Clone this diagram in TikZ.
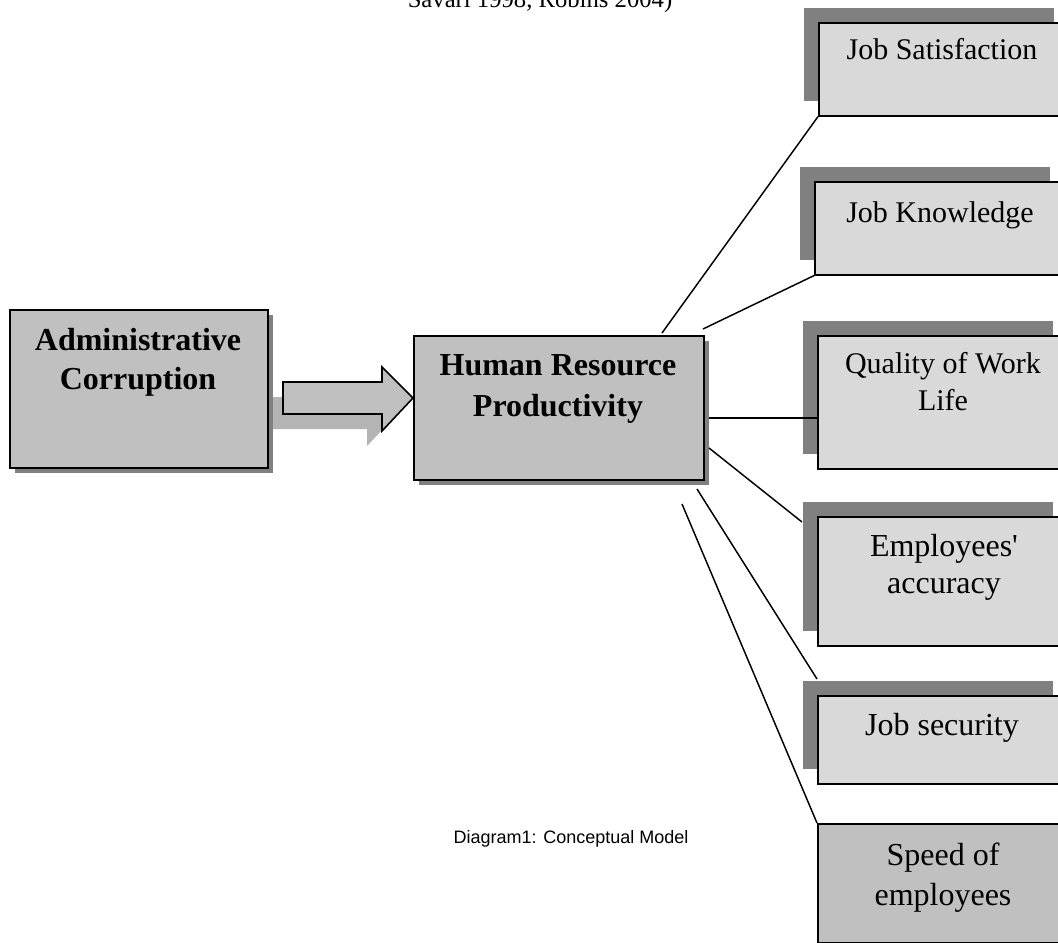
\documentclass[tikz,border=0pt]{standalone}
\usepackage{fontspec}
\setmainfont{Liberation Serif}
\newfontfamily\capfont{Liberation Sans}
\usetikzlibrary{shadows}
\definecolor{boxgray}{HTML}{C0C0C0}
\definecolor{shadegray}{HTML}{808080}
\definecolor{lightbox}{HTML}{D9D9D9}
\definecolor{arrowshade}{HTML}{B4B4B4}
\begin{document}
\begin{tikzpicture}[x=0.75pt,y=-0.75pt,
  mainbox/.style={draw=black, line width=1.4pt, fill=boxgray, inner sep=0pt, anchor=north west,
    drop shadow={shadow xshift=3.75pt, shadow yshift=-3.75pt, fill=shadegray, opacity=1}},
  sidebox/.style={draw=black, line width=1.2pt, fill=lightbox, inner sep=0pt, anchor=north west,
    minimum width={250*0.75pt},
    drop shadow={shadow xshift=-11.25pt, shadow yshift=11.25pt, fill=shadegray, opacity=1}},
  plainbox/.style={draw=black, line width=1.2pt, fill=boxgray, inner sep=0pt, anchor=north west,
    minimum width={250*0.75pt}},
  boldtxt/.style={anchor=base, inner sep=0pt, font=\fontsize{24}{28}\selectfont\bfseries},
  smalltxt/.style={anchor=base, inner sep=0pt, font=\fontsize{22.5}{27}\selectfont},
  bigtxt/.style={anchor=base, inner sep=0pt, font=\fontsize{24}{28}\selectfont},
  conn/.style={draw=black, line width=1.1pt},
  blockarrow/.style={draw=black, line width=1.2pt, fill=boxgray, line join=miter}
]
\useasboundingbox (0,0) rectangle (1058,943);

% top (cut) reference text
\node[anchor=base, inner sep=0pt, font=\fontsize{18.5}{22}\selectfont] (ref) at (540,7) {Savari 1998, Robins 2004)};

% block arrow shadow and arrow
\fill[arrowshade, shift={(-15,15)}] (283,382) -- (382,382) -- (382,367) -- (413,398) -- (382,431) -- (382,414) -- (283,414) -- cycle;

% left boxes
\node[mainbox, minimum width={258*0.75pt}, minimum height={158*0.75pt}] (ac) at (9,309) {};
\node[boldtxt] (ac1) at (138,350) {Administrative};
\node[boldtxt] (ac2) at (138,389) {Corruption};

\draw[blockarrow] (283,382) -- (382,382) -- (382,367) -- (413,398) -- (382,431) -- (382,414) -- (283,414) -- cycle;

\node[mainbox, minimum width={290*0.75pt}, minimum height={144*0.75pt}] (hrp) at (413,335) {};
\node[boldtxt] (hrp1) at (558,375) {Human Resource};
\node[boldtxt] (hrp2) at (558,416) {Productivity};

% right boxes
\node[sidebox, minimum height={93*0.75pt}] (js) at (818,22) {};
\node[smalltxt] (jst) at (942,59) {Job Satisfaction};

\node[sidebox, minimum height={93*0.75pt}] (jk) at (814,181) {};
\node[smalltxt] (jkt) at (940,222) {Job Knowledge};

\node[sidebox, minimum height={133*0.75pt}] (qw) at (817,335) {};
\node[smalltxt] (qw1) at (943,373) {Quality of Work};
\node[smalltxt] (qw2) at (943,410) {Life};

\node[sidebox, minimum height={129*0.75pt}] (ea) at (817,516) {};
\node[bigtxt] (ea1) at (944,556) {Employees\textquotesingle};
\node[bigtxt] (ea2) at (944,593) {accuracy};

\node[sidebox, minimum height={88*0.75pt}] (jsec) at (817,695) {};
\node[bigtxt] (jsect) at (942,735) {Job security};

\node[plainbox, minimum height={119*0.75pt}] (sp) at (817,823) {};
\node[bigtxt] (sp1) at (943,865) {Speed of};
\node[bigtxt] (sp2) at (943,905) {employees};

% connectors
\coordinate (s1) at (662,333);
\coordinate (s2) at (703,329);
\coordinate (s3) at (709,418);
\coordinate (s4) at (709,448);
\coordinate (e4) at (802,522);
\coordinate (s5) at (697,489);
\coordinate (e5) at (817,679);
\coordinate (s6) at (682,504);
\draw[conn] (s1) -- (js.south west);
\draw[conn] (s2) -- (jk.south west);
\draw[conn] (s3) -- (qw.west |- s3);
\draw[conn] (s4) -- (e4);
\draw[conn] (s5) -- (e5);
\draw[conn] (s6) -- (sp.north west);

% caption
\node[anchor=base, inner sep=0pt, font=\capfont\fontsize{13.5}{16}\selectfont] (cap) at (571,843) {Diagram1: Conceptual Model};
\end{tikzpicture}
\end{document}
